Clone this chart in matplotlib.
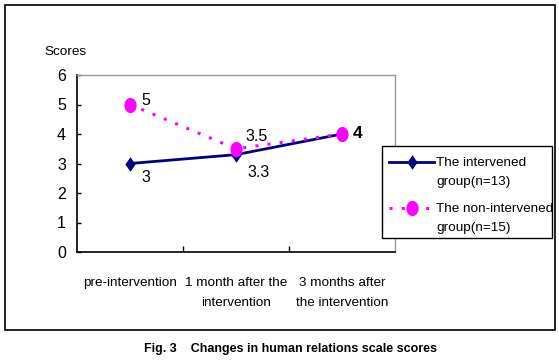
import matplotlib
matplotlib.use("Agg")
import matplotlib.pyplot as plt
from matplotlib.lines import Line2D
from matplotlib.patches import Rectangle
from matplotlib.path import Path
from matplotlib.transforms import Affine2D

categories = ["pre-intervention", "1 month after the\nintervention", "3 months after\nthe intervention"]
intervened = [3, 3.3, 4]
non_intervened = [5, 3.5, 4]
series_names = ["The intervened\ngroup(n=13)", "The non-intervened\ngroup(n=15)"]
y_ticks = [0, 1, 2, 3, 4, 5, 6]
caption = "Fig. 3    Changes in human relations scale scores"

FONT = ["Liberation Sans", "DejaVu Sans"]
plt.rcParams["font.family"] = FONT

W, H = 559, 364
fig = plt.figure(figsize=(W / 100, H / 100), dpi=100)

def fx(px):
    return px / W

def fy(py):
    return 1 - py / H

ax = fig.add_axes([fx(77), fy(252), fx(395) - fx(77), fy(75) - fy(252)])

diamond = Path([(0, -1), (0.7, 0), (0, 1), (-0.7, 0), (0, -1)])
ellipse = Path.unit_circle().transformed(Affine2D().scale(0.8, 1.0))

navy = "#000080"
magenta = "#FF00FF"
style1 = dict(color=navy, lw=2.0, linestyle="-", markersize=10.5, markeredgewidth=0,
              markerfacecolor=navy)
style2 = dict(color=magenta, lw=2.2, linestyle=(0, (1, 3)),
              markersize=11, markeredgewidth=0, markerfacecolor=magenta)

x = list(range(len(categories)))
ax.plot(x, intervened, zorder=3, marker=diamond, **style1)
ax.plot(x, non_intervened, zorder=4, marker=ellipse, **style2)

fs_num = 11.5   # digits
fs_txt = 9.7    # words
# data labels
offs1 = [(8, -10), (8, -13), (8, 0)]
offs2 = [(8, 3), (7, 9), (8, 0)]
for i, v in enumerate(intervened):
    if i == 2:
        continue
    ax.annotate(f"{v:g}", (x[i], v), xytext=offs1[i], textcoords="offset points",
                fontsize=fs_num, va="center", ha="left")
for i, v in enumerate(non_intervened):
    ax.annotate(f"{v:g}", (x[i], v), xytext=offs2[i], textcoords="offset points",
                fontsize=fs_num + 1 if i == 2 else fs_num, va="center", ha="left",
                fontweight="bold" if i == 2 else "normal")

ax.set_xlim(-0.5, 2.5)
ax.set_ylim(0, 6)
ax.set_yticks(y_ticks)
ax.set_yticklabels([str(t) for t in y_ticks], fontsize=fs_num)
ax.set_xticks([0.5, 1.5])
ax.set_xticklabels([])
ax.set_xticks(x, minor=True)
ax.set_xticklabels(categories, minor=True, fontsize=fs_txt, linespacing=1.9)
ax.tick_params(axis="x", which="minor", length=0, pad=18)
ax.tick_params(axis="x", which="major", direction="in", length=4, width=1)
ax.tick_params(axis="y", direction="in", length=3, width=1, pad=8)

for s in ["top", "right"]:
    ax.spines[s].set_color("#999999")
    ax.spines[s].set_linewidth(1.0)
for s in ["left", "bottom"]:
    ax.spines[s].set_color("black")
    ax.spines[s].set_linewidth(1.2)

fig.text(fx(44), fy(52), "Scores", fontsize=fs_txt, va="center", ha="left")

# legend box (manual)
fig.patches.append(Rectangle((fx(382), fy(238)), fx(552) - fx(382), fy(146) - fy(238),
                             transform=fig.transFigure, facecolor="white",
                             edgecolor="black", lw=1.0, zorder=5))
leg_rows = [(162, 172.5), (208, 218.5)]
for (ty, cy), name, st, mk in zip(leg_rows, series_names, [style1, style2],
                                   [diamond, ellipse]):
    ln = Line2D([fx(389), fx(434)], [fy(ty), fy(ty)], transform=fig.transFigure,
                zorder=6, color=st["color"], lw=st["lw"], linestyle=st["linestyle"])
    fig.lines.append(ln)
    mkr = Line2D([fx(411.5)], [fy(ty)], transform=fig.transFigure, zorder=7,
                 marker=mk, markersize=st["markersize"], markeredgewidth=0,
                 markerfacecolor=st["markerfacecolor"], linestyle="None")
    fig.lines.append(mkr)
    fig.text(fx(436), fy(cy), name, fontsize=fs_txt, va="center", ha="left",
             linespacing=1.8, zorder=7)

# outer border
fig.patches.append(Rectangle((fx(5), fy(330)), fx(555) - fx(5), fy(5) - fy(330),
                             transform=fig.transFigure, facecolor="none",
                             edgecolor="black", lw=1.2, zorder=10))

fig.text(fx(290), fy(349), caption, fontsize=9, fontweight="bold",
         ha="center", va="center")

fig.savefig("out.png", dpi=100)
